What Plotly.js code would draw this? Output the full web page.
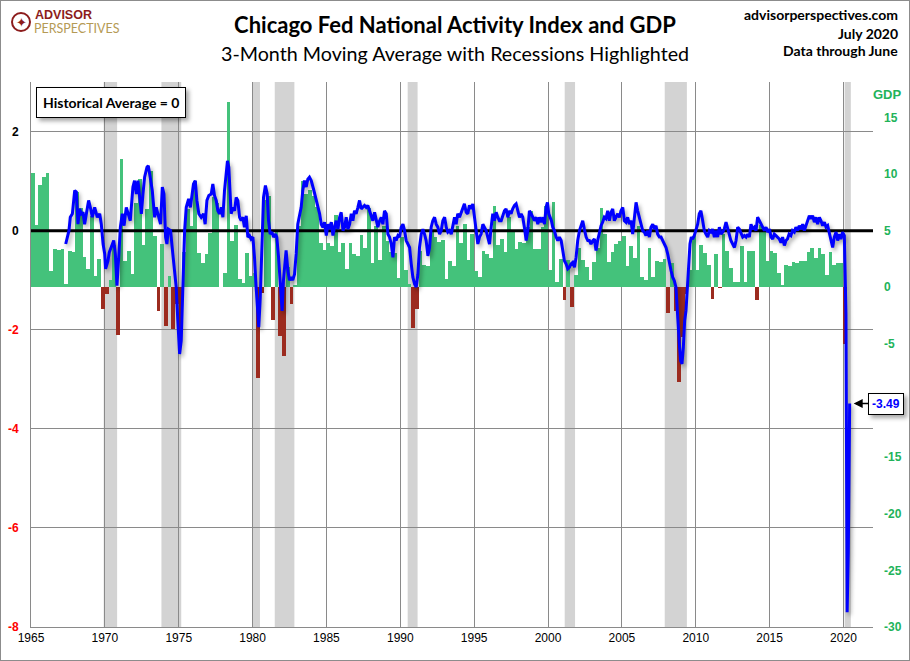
<!DOCTYPE html>
<html>
<head>
<meta charset="utf-8">
<script src="https://cdn.plot.ly/plotly-3.0.1.min.js"></script>
<style>
  html, body { margin: 0; padding: 0; background: #ffffff; }
  #wrap { position: relative; width: 910px; height: 661px; }
  #chart { width: 910px; height: 661px; }
  #frame { position: absolute; left: 0; top: 0; width: 910px; height: 661px; box-sizing: border-box; border: 1px solid #8c8c8c; pointer-events: none; }
  .scatterlayer .trace:last-child .js-line { filter: drop-shadow(2px 3px 2px rgba(0,0,0,0.35)); }
  .infolayer .annotation rect.bg { filter: drop-shadow(3px 3px 2px rgba(0,0,0,0.35)); }
</style>
</head>
<body>
<div id="wrap"><div id="chart"></div><div id="frame"></div></div>
<script>
// ---------------- DATA ----------------
// Real GDP growth, quarterly, annualized %, starting 1965 Q1
const gdpStartYear = 1965;
const gdpGrowth = [
  10.1, 5.5, 9.0, 9.7,
  10.1, 1.4, 3.4, 3.3,
  3.4, 0.3, 3.2, 3.1,
  8.4, 7.0, 2.7, 1.6,
  6.3, 1.0, 2.5, -1.9,
  -0.6, 0.6, 3.7, -4.2,
  11.3, 2.3, 3.2, 1.2,
  7.4, 9.6, 3.7, 6.9,
  10.3, 4.5, -2.1, 3.8,
  -3.4, 1.0, -3.7, -1.5,
  -4.8, 3.1, 6.9, 5.4,
  9.4, 3.0, 2.1, 2.9,
  4.8, 8.0, 7.4, 0.0,
  1.3, 16.4, 4.1, 5.5,
  0.7, 0.4, 3.0, 1.0,
  1.3, -8.0, -0.5, 7.7,
  8.1, -2.9, 4.9, -4.3,
  -6.1, 1.8, -1.5, 0.2,
  5.4, 9.4, 8.2, 8.6,
  8.1, 7.1, 3.9, 3.3,
  3.9, 3.6, 6.4, 3.1,
  3.9, 1.6, 3.9, 2.9,
  2.8, 4.6, 3.5, 7.0,
  2.1, 5.4, 2.4, 5.4,
  4.1, 3.1, 3.0, 0.8,
  4.4, 1.5, 0.3, -3.6,
  -1.9, 3.2, 2.0, 1.9,
  4.9, 4.4, 4.0, 4.2,
  0.7, 2.3, 1.9, 5.4,
  3.9, 5.6, 2.4, 4.7,
  1.4, 0.9, 3.2, 2.9,
  2.6, 7.2, 3.7, 4.3,
  3.1, 6.2, 5.1, 3.4,
  4.0, 3.9, 5.3, 6.7,
  3.4, 3.4, 5.3, 7.2,
  1.5, 7.5, 0.5, 2.5,
  -1.1, 2.4, -1.7, 1.1,
  3.5, 2.4, 1.8, 0.6,
  2.2, 3.5, 7.0, 4.7,
  2.2, 3.1, 3.8, 4.1,
  4.5, 1.9, 3.6, 2.6,
  5.4, 0.9, 0.6, 3.5,
  0.9, 2.3, 2.2, 2.5,
  -2.3, 2.1, -2.1, -8.4,
  -4.4, -0.6, 1.5, 4.5,
  1.5, 3.7, 3.0, 2.0,
  -1.0, 2.9, -0.1, 4.7,
  3.2, 1.7, 0.5, 0.5,
  3.6, 0.5, 3.2, 3.2,
  -1.1, 5.5, 5.0, 2.3,
  3.2, 3.0, 1.3, 0.2,
  2.0, 1.9, 2.2, 2.1,
  2.3, 2.3, 3.1, 3.5,
  2.6, 3.5, 2.9, 1.1,
  3.1, 2.0, 2.1, 2.1,
  -5.0
];

// CFNAI 3-month moving average (decimal year, value)
const cfnaiYear = [
  1967.35,1967.57,1967.66,1967.8,1967.96,1968.07,1968.18,1968.29,1968.41,1968.52,1968.63,1968.75,1968.9,1969.04,1969.15,1969.31,1969.49,1969.65,1969.76,1969.88,
  1969.99,1970.05,1970.21,1970.3,1970.48,1970.6,1970.71,1970.82,1970.95,1971.05,1971.18,1971.3,1971.45,1971.56,1971.72,1971.9,1972.01,1972.13,1972.24,1972.36,
  1972.47,1972.58,1972.69,1972.85,1972.94,1973.07,1973.21,1973.37,1973.48,1973.59,1973.77,1973.89,1974.0,1974.11,1974.2,1974.3,1974.45,1974.6,1974.72,1974.83,
  1974.94,1975.06,1975.17,1975.28,1975.4,1975.51,1975.67,1975.79,1975.91,1976.0,1976.12,1976.23,1976.36,1976.52,1976.68,1976.79,1976.91,1977.04,1977.2,1977.31,
  1977.42,1977.54,1977.65,1977.76,1977.88,1977.99,1978.1,1978.21,1978.3,1978.39,1978.48,1978.55,1978.66,1978.78,1978.89,1979.0,1979.12,1979.23,1979.34,1979.45,
  1979.57,1979.68,1979.79,1979.9,1980.02,1980.13,1980.24,1980.36,1980.42,1980.52,1980.63,1980.74,1980.87,1980.99,1981.08,1981.19,1981.31,1981.42,1981.55,1981.64,
  1981.76,1981.89,1982.0,1982.09,1982.18,1982.27,1982.39,1982.5,1982.61,1982.72,1982.84,1982.95,1983.06,1983.18,1983.29,1983.4,1983.51,1983.63,1983.74,1983.85,
  1983.97,1984.15,1984.31,1984.42,1984.54,1984.65,1984.76,1984.87,1984.99,1985.1,1985.21,1985.33,1985.44,1985.55,1985.66,1985.78,1985.89,1986.0,1986.12,1986.23,
  1986.34,1986.45,1986.57,1986.68,1986.79,1986.9,1987.01,1987.13,1987.24,1987.35,1987.47,1987.58,1987.69,1987.8,1987.92,1988.03,1988.14,1988.26,1988.37,1988.48,
  1988.6,1988.71,1988.82,1988.93,1989.05,1989.16,1989.27,1989.39,1989.5,1989.61,1989.72,1989.84,1989.95,1990.06,1990.18,1990.29,1990.4,1990.52,1990.63,1990.74,
  1990.85,1990.97,1991.08,1991.19,1991.3,1991.42,1991.53,1991.64,1991.75,1991.87,1991.98,1992.09,1992.2,1992.32,1992.43,1992.54,1992.66,1992.77,1992.88,1993.0,
  1993.11,1993.22,1993.33,1993.45,1993.56,1993.67,1993.78,1993.89,1994.01,1994.12,1994.23,1994.34,1994.46,1994.57,1994.68,1994.8,1994.91,1995.02,1995.13,1995.25,
  1995.36,1995.47,1995.59,1995.7,1995.81,1995.92,1996.04,1996.15,1996.26,1996.37,1996.49,1996.6,1996.71,1996.83,1996.94,1997.05,1997.16,1997.28,1997.39,1997.5,
  1997.61,1997.73,1997.84,1997.95,1998.07,1998.18,1998.29,1998.4,1998.52,1998.63,1998.74,1998.86,1998.97,1999.08,1999.2,1999.31,1999.42,1999.54,1999.65,1999.76,
  1999.87,1999.96,2000.05,2000.14,2000.23,2000.32,2000.43,2000.55,2000.66,2000.77,2000.89,2001.0,2001.11,2001.22,2001.34,2001.45,2001.56,2001.67,2001.79,2001.9,
  2002.01,2002.13,2002.24,2002.35,2002.46,2002.58,2002.69,2002.8,2002.91,2003.03,2003.14,2003.25,2003.36,2003.48,2003.59,2003.7,2003.81,2003.92,2004.04,2004.15,
  2004.27,2004.38,2004.49,2004.6,2004.72,2004.83,2004.94,2005.06,2005.17,2005.28,2005.39,2005.51,2005.62,2005.73,2005.85,2005.96,2006.07,2006.18,2006.3,2006.41,
  2006.52,2006.63,2006.75,2006.86,2006.97,2007.09,2007.2,2007.31,2007.42,2007.54,2007.65,2007.76,2007.87,2007.99,2008.1,2008.21,2008.33,2008.44,2008.55,2008.66,
  2008.73,2008.8,2008.89,2008.98,2009.07,2009.16,2009.25,2009.34,2009.43,2009.52,2009.61,2009.7,2009.79,2009.9,2010.02,2010.13,2010.24,2010.35,2010.47,2010.58,
  2010.69,2010.81,2010.92,2011.03,2011.14,2011.26,2011.37,2011.48,2011.6,2011.71,2011.82,2011.93,2012.05,2012.16,2012.27,2012.38,2012.5,2012.62,2012.73,2012.84,
  2012.95,2013.07,2013.18,2013.3,2013.41,2013.52,2013.63,2013.74,2013.86,2013.97,2014.08,2014.19,2014.31,2014.42,2014.53,2014.65,2014.76,2014.87,2014.99,2015.1,
  2015.21,2015.32,2015.43,2015.55,2015.66,2015.77,2015.88,2016.0,2016.11,2016.21,2016.32,2016.44,2016.55,2016.67,2016.78,2016.9,2017.01,2017.12,2017.24,2017.35,
  2017.46,2017.58,2017.69,2017.8,2017.91,2018.03,2018.14,2018.25,2018.37,2018.48,2018.59,2018.71,2018.82,2018.93,2019.04,2019.16,2019.27,2019.38,2019.5,2019.61,
  2019.72,2019.83,2019.94,2020.06,2020.17,2020.25,2020.33,2020.42
];
const cfnaiValue = [
  -0.27,0.0,0.27,0.34,0.81,0.78,0.13,0.44,0.34,0.37,0.13,0.37,0.61,0.44,0.27,0.47,0.27,0.34,0.13,-0.27,
  -0.47,-0.77,-0.61,-0.44,-0.27,-0.2,-0.47,-1.11,-0.47,0.07,0.34,0.1,0.47,0.34,0.2,0.88,1.01,0.74,1.01,0.67,
  0.34,0.74,1.08,1.28,1.31,1.08,0.81,0.27,0.47,0.34,0.13,0.88,0.74,-0.13,-0.27,0.03,0.0,-0.47,-0.81,-1.14,
  -1.82,-2.49,-2.22,-1.0,0.0,0.47,0.64,0.47,0.74,0.94,1.01,0.61,0.34,0.27,0.34,0.13,0.61,0.71,0.74,0.94,
  0.71,0.61,0.4,0.34,0.47,0.27,0.81,1.08,1.41,1.28,0.67,0.34,0.47,0.4,0.67,0.61,0.27,0.2,0.27,0.07,
  0.3,-0.13,-0.1,-0.17,-0.13,-0.54,-1.14,-1.82,-1.95,-1.35,-0.2,0.67,0.91,0.74,0.2,-0.07,-0.03,-0.13,-0.07,-0.13,
  -0.54,-1.08,-1.62,-1.01,-0.61,-0.4,-0.81,-1.0,-0.94,-1.0,-0.88,-0.47,0.13,0.34,0.47,0.81,1.01,0.88,1.04,1.08,
  1.01,0.81,0.61,0.47,0.34,0.13,0.07,0.17,-0.1,0.13,0.03,0.17,-0.1,0.07,0.2,0.03,0.27,0.37,0.0,0.07,
  0.27,0.03,0.13,0.34,0.2,0.4,0.34,0.47,0.61,0.44,0.47,0.51,0.47,0.51,0.4,0.27,0.2,0.37,0.2,0.07,
  0.2,0.27,0.13,0.4,0.34,-0.07,-0.13,-0.27,-0.54,-0.13,-0.2,-0.1,-0.13,0.07,0.13,0.0,-0.2,-0.27,-0.34,-0.67,
  -0.94,-1.08,-1.14,-0.88,-0.34,-0.07,0.03,-0.07,-0.2,-0.51,-0.34,0.07,0.2,0.27,0.13,0.07,-0.07,0.0,0.2,0.27,
  0.07,-0.03,0.0,-0.07,0.07,0.27,0.13,0.34,0.27,0.37,0.47,0.54,0.37,0.34,0.51,0.44,0.54,0.27,0.0,-0.27,
  -0.13,-0.07,0.13,0.07,0.0,-0.13,-0.27,0.07,0.34,0.2,0.37,0.27,0.2,0.2,0.3,0.4,0.44,0.27,0.4,0.34,
  0.44,0.51,0.54,0.4,0.27,0.34,0.27,0.07,-0.2,0.0,0.4,0.34,0.27,0.2,0.27,0.13,0.27,0.17,0.27,0.13,
  0.47,0.57,0.34,0.27,0.2,0.07,0.0,-0.13,-0.2,-0.13,-0.2,-0.4,-0.61,-0.67,-0.77,-0.74,-0.67,-0.64,-0.74,-0.54,
  -0.2,0.0,0.13,0.2,0.03,-0.13,-0.2,-0.2,-0.27,-0.2,-0.17,-0.4,-0.2,0.0,0.1,0.17,0.27,0.24,0.4,0.2,
  0.37,0.44,0.2,0.27,0.34,0.27,0.4,0.47,0.2,0.17,0.27,0.13,0.2,-0.07,0.27,0.57,0.4,0.27,0.13,0.0,
  -0.03,-0.1,0.0,-0.13,0.07,0.13,0.03,0.1,-0.07,-0.13,-0.13,-0.2,-0.27,-0.34,-0.47,-0.67,-0.81,-0.94,-1.01,-1.14,
  -1.55,-1.82,-2.29,-2.63,-2.69,-2.36,-1.82,-1.62,-1.08,-0.61,-0.27,-0.13,-0.17,-0.1,0.0,0.13,0.34,0.4,0.2,0.0,
  -0.07,-0.13,0.0,-0.03,0.03,-0.13,0.0,-0.13,0.07,-0.07,-0.03,0.03,0.17,0.03,-0.07,-0.2,-0.27,-0.34,-0.2,0.07,
  0.03,-0.07,-0.13,-0.1,-0.13,-0.07,-0.13,0.13,0.03,0.07,0.0,0.27,0.2,0.13,0.07,0.0,0.07,-0.03,0.03,-0.13,
  -0.17,-0.07,-0.1,-0.13,-0.17,-0.24,-0.13,-0.3,-0.2,-0.17,-0.07,-0.1,0.0,-0.03,0.07,0.0,0.1,0.03,0.13,0.0,
  0.1,0.2,0.3,0.24,0.3,0.17,0.27,0.13,0.27,0.2,0.1,0.17,0.07,0.1,-0.03,-0.17,-0.34,-0.13,-0.03,-0.2,
  -0.07,-0.17,-0.03,-0.1,-1.7,-7.7,-6.45,-3.49
];

// NBER recessions (decimal years)
const recessionStart = [1969.92, 1973.83, 1980.0, 1981.5, 1990.5, 2001.13, 2007.9, 2020.08];
const recessionEnd   = [1970.83, 1975.17, 1980.5, 1982.83, 1991.17, 2001.83, 2009.4, 2020.5];

const xTickYears = [1965, 1970, 1975, 1980, 1985, 1990, 1995, 2000, 2005, 2010, 2015, 2020];
const leftTicks = [2, 0, -2, -4, -6, -8];
// -10 is hidden behind the latest-value box in the reference
const rightTicks = [15, 10, 5, 0, -5, -15, -20, -25, -30];
const historicalAverage = 0;
const latestLabel = "-3.49";

// ---------------- BUILD ----------------
const xRange = [1965, 2022];
const green = '#44c27b', red = '#9c2b1f', blue = '#0000ff', tickGreen = '#22b35a';

const gdpX = gdpGrowth.map((v, i) => gdpStartYear + Math.floor(i / 4) + (i % 4) * 0.25 + 0.125);
const gdpColors = gdpGrowth.map(v => v < 0 ? red : green);

const traces = [
  { type: 'bar', x: gdpX, y: gdpGrowth, width: 0.25, xaxis: 'x', yaxis: 'y',
    marker: { color: gdpColors, line: { width: 0 } }, hoverinfo: 'skip', showlegend: false },
  { type: 'scatter', mode: 'lines', x: xRange, y: [historicalAverage, historicalAverage], xaxis: 'x', yaxis: 'y2',
    line: { color: '#000000', width: 3 }, hoverinfo: 'skip', showlegend: false },
  { type: 'scatter', mode: 'lines', x: cfnaiYear, y: cfnaiValue, xaxis: 'x', yaxis: 'y2',
    line: { color: blue, width: 3 }, hoverinfo: 'skip', showlegend: false }
];

const shapes = recessionStart.map((s, i) => ({
  type: 'rect', xref: 'x', yref: 'paper', x0: s, x1: recessionEnd[i], y0: 0, y1: 1,
  fillcolor: '#d3d3d3', line: { width: 0 }, layer: 'below'
}));

const L = 31, R = 37, T = 82, B = 34, W = 910, H = 661;
const pw = W - L - R, ph = H - T - B;
const px = v => (v - L) / pw;          // pixel -> paper x
const py = v => (H - B - v) / ph;      // pixel -> paper y

// logo ring
shapes.push({ type: 'circle', xref: 'paper', yref: 'paper', x0: px(12), x1: px(30), y0: py(31), y1: py(13),
  line: { color: '#8c1c1c', width: 2 }, fillcolor: 'rgba(0,0,0,0)', layer: 'above' });

const leftText = leftTicks.map(v => v < 0 ? '<span style="color:#ff0000">' + v + '</span>' : String(v));

const titleFont = 'Lato, "Open Sans", sans-serif';
const annotations = [
  { xref: 'paper', yref: 'paper', x: px(36), y: py(87), xanchor: 'left', yanchor: 'top',
    text: '<b>Historical Average = ' + historicalAverage + '</b>', showarrow: false,
    font: { family: titleFont, size: 14, color: '#000' },
    bgcolor: '#ffffff', bordercolor: '#000000', borderwidth: 1, borderpad: 6 },
  { xref: 'x', yref: 'y2', x: cfnaiYear[cfnaiYear.length - 1], y: cfnaiValue[cfnaiValue.length - 1],
    text: '<b>' + latestLabel + '</b>', showarrow: true, ax: 36, ay: 0,
    arrowhead: 2, arrowsize: 1.2, arrowwidth: 1.5, arrowcolor: '#000', standoff: 4,
    font: { family: 'Liberation Sans, Arial, sans-serif', size: 12, color: blue },
    bgcolor: '#ffffff', bordercolor: '#000000', borderwidth: 1, borderpad: 3 },
  { xref: 'paper', yref: 'paper', x: px(887), y: py(95), xanchor: 'center', yanchor: 'middle',
    text: '<b>GDP</b>', showarrow: false, font: { family: 'Liberation Sans, Arial, sans-serif', size: 13, color: tickGreen } },
  { xref: 'paper', yref: 'paper', x: px(455), y: py(53), xanchor: 'center', yanchor: 'middle',
    text: '3-Month Moving Average with Recessions Highlighted', showarrow: false,
    font: { family: titleFont, size: 19.7, color: '#000' } },
  { xref: 'paper', yref: 'paper', x: px(900), y: py(15), xanchor: 'right', yanchor: 'middle',
    text: '<b>advisorperspectives.com</b>', showarrow: false, font: { family: titleFont, size: 14, color: '#000' } },
  { xref: 'paper', yref: 'paper', x: px(900), y: py(33), xanchor: 'right', yanchor: 'middle',
    text: '<b>July 2020</b>', showarrow: false, font: { family: titleFont, size: 14, color: '#000' } },
  { xref: 'paper', yref: 'paper', x: px(900), y: py(50), xanchor: 'right', yanchor: 'middle',
    text: '<b>Data through June</b>', showarrow: false, font: { family: titleFont, size: 14, color: '#000' } },
  { xref: 'paper', yref: 'paper', x: px(33), y: py(15), xanchor: 'left', yanchor: 'middle',
    text: '<b>ADVISOR</b>', showarrow: false, font: { family: 'Liberation Sans, Arial, sans-serif', size: 12.5, color: '#8c1c1c' } },
  { xref: 'paper', yref: 'paper', x: px(32), y: py(28), xanchor: 'left', yanchor: 'middle',
    text: 'PERSPECTIVES', showarrow: false, font: { family: 'Lato, sans-serif', size: 12.5, color: '#b59a55' } },
  { xref: 'paper', yref: 'paper', x: px(21), y: py(22), xanchor: 'center', yanchor: 'middle',
    text: '✦', showarrow: false, font: { family: 'DejaVu Sans, sans-serif', size: 13, color: '#8c1c1c' } }
];

const layout = {
  width: W, height: H,
  margin: { l: L, r: R, t: T, b: B, pad: 0 },
  paper_bgcolor: '#ffffff', plot_bgcolor: '#ffffff',
  showlegend: false,
  bargap: 0,
  title: { text: '<b>Chicago Fed National Activity Index and GDP</b>', x: 0.5, xanchor: 'center',
           y: 1 - 25 / H, yanchor: 'middle', yref: 'container',
           font: { family: titleFont, size: 22, color: '#000' } },
  xaxis: { range: xRange, tickvals: xTickYears, ticktext: xTickYears.map(String),
           showgrid: true, gridcolor: '#8a8a8a', gridwidth: 1, zeroline: false,
           showline: true, linecolor: '#8a8a8a', linewidth: 1, ticks: '',
           tickfont: { family: 'Liberation Sans, Arial, sans-serif', size: 12, color: '#000' } },
  yaxis: { range: [-30, 18.125], side: 'right', tickvals: rightTicks, ticktext: rightTicks.map(String),
           showgrid: false, zeroline: false, showline: false, ticks: '', ticklabelstandoff: 10,
           tickfont: { family: 'Liberation Sans, Arial, sans-serif', size: 12, color: tickGreen, weight: 'bold' } },
  yaxis2: { range: [-8, 3], overlaying: 'y', side: 'left', tickvals: leftTicks, ticktext: leftText,
            showgrid: true, gridcolor: '#8a8a8a', gridwidth: 1, zeroline: false,
            showline: true, linecolor: '#8a8a8a', linewidth: 1, ticks: '', ticklabelstandoff: 9,
            tickfont: { family: 'Liberation Sans, Arial, sans-serif', size: 12, color: '#000', weight: 'bold' } },
  shapes: shapes,
  annotations: annotations
};

Plotly.newPlot('chart', traces, layout, { staticPlot: true, displayModeBar: false });
</script>
</body>
</html>
